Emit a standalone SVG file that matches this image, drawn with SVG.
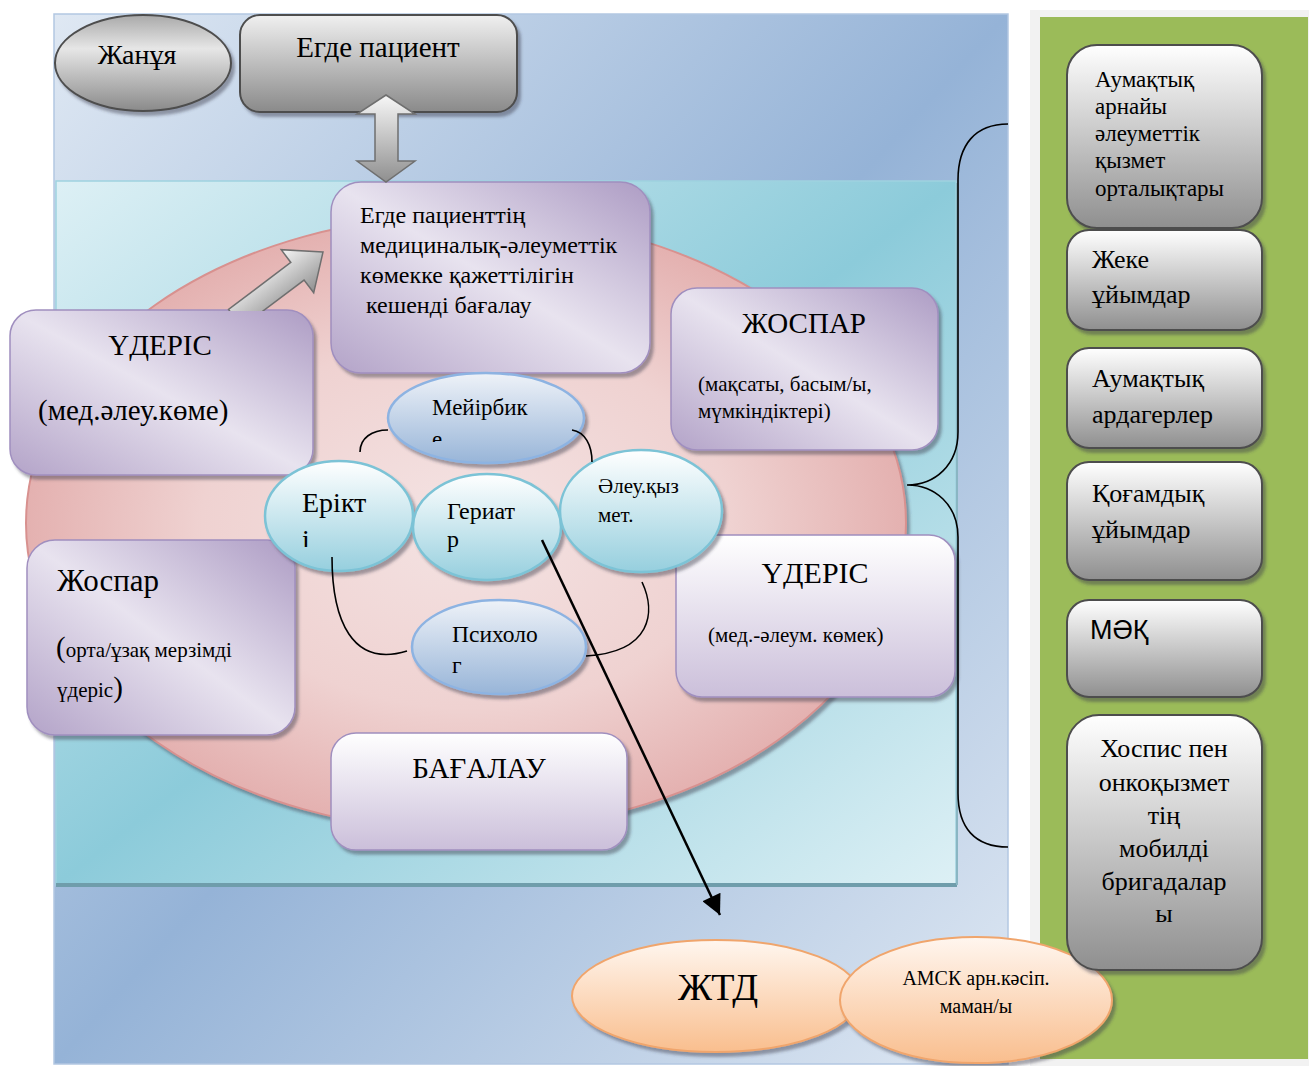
<svg xmlns="http://www.w3.org/2000/svg" width="1309" height="1066" viewBox="0 0 1309 1066">
<style>
.t{font-family:"Liberation Serif","Times New Roman",serif;fill:#000}
.s{font-family:"Liberation Sans",Arial,sans-serif;fill:#000}
.m{text-anchor:middle}
.pb{stroke:#a08fbf;stroke-width:1.5}
.gb{stroke:#4d4d4d;stroke-width:2}
.te{stroke:#7cc3d6;stroke-width:2.5}
.be{stroke:#8db3e2;stroke-width:2.5}
.oe{stroke:#f0a56c;stroke-width:2}
.cv{fill:none;stroke:#000;stroke-width:1.6}
</style>
<defs>
<linearGradient id="gOuter" x1="0" y1="0" x2="1" y2="1"><stop offset="0" stop-color="#dfe8f3"/><stop offset="0.5" stop-color="#95b3d7"/><stop offset="1" stop-color="#dfe8f3"/></linearGradient>
<linearGradient id="gInner" x1="0" y1="0" x2="1" y2="1"><stop offset="0" stop-color="#ddf0f5"/><stop offset="0.5" stop-color="#8ccbda"/><stop offset="1" stop-color="#ddf0f5"/></linearGradient>
<radialGradient id="gPink" cx="0.5" cy="0.5" r="0.5"><stop offset="0" stop-color="#f4e3e3"/><stop offset="0.6" stop-color="#efd2d1"/><stop offset="1" stop-color="#e4b1b0"/></radialGradient>
<linearGradient id="gPurple" x1="1" y1="0" x2="0" y2="1"><stop offset="0" stop-color="#ad9cc4"/><stop offset="0.5" stop-color="#e8e3ef"/><stop offset="1" stop-color="#b3a3c8"/></linearGradient>
<linearGradient id="gPurpleV" x1="0" y1="0" x2="0" y2="1"><stop offset="0" stop-color="#ffffff"/><stop offset="1" stop-color="#cbbfda"/></linearGradient>
<linearGradient id="gGrayV" x1="0" y1="0" x2="0" y2="1"><stop offset="0" stop-color="#ffffff"/><stop offset="1" stop-color="#8f8f8f"/></linearGradient>
<linearGradient id="gGrayBox" x1="0" y1="0" x2="0" y2="1"><stop offset="0" stop-color="#f0f0f0"/><stop offset="1" stop-color="#8a8a8a"/></linearGradient>
<linearGradient id="gGrayE" x1="0" y1="0" x2="0" y2="1"><stop offset="0" stop-color="#a9a9a9"/><stop offset="0.35" stop-color="#e6e6e6"/><stop offset="1" stop-color="#8a8a8a"/></linearGradient>
<linearGradient id="gArrow" x1="0" y1="0" x2="0" y2="1"><stop offset="0" stop-color="#f7f7f7"/><stop offset="1" stop-color="#8f8f8f"/></linearGradient>
<linearGradient id="gTeal" x1="0" y1="0" x2="0" y2="1"><stop offset="0" stop-color="#ffffff"/><stop offset="1" stop-color="#96cfde"/></linearGradient>
<linearGradient id="gBlue" x1="0" y1="0" x2="0" y2="1"><stop offset="0" stop-color="#eef2f8"/><stop offset="1" stop-color="#98b5d8"/></linearGradient>
<linearGradient id="gOrange" x1="0" y1="0" x2="0" y2="1"><stop offset="0" stop-color="#fff6ef"/><stop offset="1" stop-color="#f9be8e"/></linearGradient>
<filter id="sh" x="-10%" y="-10%" width="125%" height="130%"><feDropShadow dx="3" dy="4" stdDeviation="1.5" flood-color="#3a3a4a" flood-opacity="0.45"/></filter>
<clipPath id="cpDiag"><rect x="0" y="0" width="700" height="311"/></clipPath>
<clipPath id="cpE"><rect x="380" y="380" width="200" height="62"/></clipPath>
<clipPath id="cpI"><rect x="280" y="460" width="120" height="87"/></clipPath>
<marker id="ah" viewBox="0 0 10 10" refX="10" refY="5" markerWidth="24" markerHeight="20" markerUnits="userSpaceOnUse" orient="auto"><path d="M0,0 L10,5 L0,10 z" fill="#000"/></marker>
</defs>

<rect width="1309" height="1066" fill="#ffffff"/>
<g id="background">
<rect x="54" y="14" width="954" height="1050" fill="url(#gOuter)" stroke="#b3c7e2" stroke-width="1.5"/>
<rect x="56" y="181" width="900" height="704" fill="url(#gInner)" stroke="#9fd2df" stroke-width="1.5"/>
<line x1="56" y1="885" x2="957" y2="885" stroke="#6f9dab" stroke-width="4"/>
<line x1="957" y1="183" x2="957" y2="885" stroke="#8ab6c3" stroke-width="2"/>
<ellipse cx="466" cy="523" rx="440" ry="308" fill="url(#gPink)" stroke="#d8918f" stroke-width="2" filter="url(#sh)"/>
<rect x="1030" y="10" width="279" height="1056" fill="#f2f2f2"/>
<rect x="1040" y="17" width="268" height="1042" fill="#9bbb59"/>
</g>

<g id="node-zhanuya">
<ellipse cx="143" cy="63" rx="88" ry="48" fill="url(#gGrayE)" class="gb" filter="url(#sh)"/>
<text x="137" y="64" class="t m" font-size="28">Жанұя</text>
</g>
<g id="node-egde-pacient">
<rect x="240" y="15" width="277" height="97" rx="20" fill="url(#gGrayBox)" class="gb" filter="url(#sh)"/>
<text x="378" y="57" class="t m" font-size="29">Егде пациент</text>
</g>
<g id="node-assessment">
<rect x="331" y="182" width="319" height="191" rx="30" fill="url(#gPurple)" class="pb" filter="url(#sh)"/>
<text class="t" font-size="24"><tspan x="360" y="223">Егде пациенттің</tspan><tspan x="360" y="253">медициналық-әлеуметтік</tspan><tspan x="360" y="283">көмекке қажеттілігін</tspan><tspan x="366" y="313">кешенді бағалау</tspan></text>
</g>
<g id="node-uderis-left">
<rect x="10" y="310" width="303" height="165" rx="26" fill="url(#gPurple)" class="pb" filter="url(#sh)"/>
<text x="160" y="355" class="t m" font-size="29">ҮДЕРІС</text>
<text x="38" y="420" class="t" font-size="29">(мед.әлеу.көме)</text>
</g>
<g id="node-zhospar-upper">
<rect x="671" y="288" width="267" height="162" rx="26" fill="url(#gPurple)" class="pb" filter="url(#sh)"/>
<text x="804" y="333" class="t m" font-size="29">ЖОСПАР</text>
<text class="t" font-size="21"><tspan x="698" y="391">(мақсаты, басым/ы,</tspan><tspan x="698" y="418">мүмкіндіктері)</tspan></text>
</g>
<g id="node-uderis-right">
<rect x="676" y="535" width="279" height="162" rx="26" fill="url(#gPurpleV)" class="pb" filter="url(#sh)"/>
<text x="815" y="583" class="t m" font-size="30">ҮДЕРІС</text>
<text x="708" y="642" class="t" font-size="21">(мед.-әлеум. көмек)</text>
</g>
<g id="node-zhospar-lower">
<rect x="27" y="540" width="268" height="195" rx="28" fill="url(#gPurple)" class="pb" filter="url(#sh)"/>
<text x="57" y="591" class="t" font-size="31">Жоспар</text>
<text x="56" y="657" class="t" font-size="21"><tspan font-size="29">(</tspan>орта/ұзақ мерзімді</text>
<text x="57" y="697" class="t" font-size="21">үдеріс<tspan font-size="29">)</tspan></text>
</g>
<g id="node-bagalau">
<rect x="331" y="733" width="296" height="117" rx="25" fill="url(#gPurpleV)" class="pb" filter="url(#sh)"/>
<text x="479" y="778" class="t m" font-size="29">БАҒАЛАУ</text>
</g>

<g id="node-meyirbike">
<ellipse cx="486" cy="418" rx="98" ry="45" fill="url(#gBlue)" class="be" filter="url(#sh)"/>
<text x="432" y="415" class="t" font-size="23">Мейірбик</text>
<text x="432" y="447" class="t" font-size="23" clip-path="url(#cpE)">е</text>
</g>
<g id="node-erikti">
<ellipse cx="339" cy="516" rx="74" ry="55" fill="url(#gTeal)" class="te" filter="url(#sh)"/>
<text x="302" y="512" class="t" font-size="28">Ерікт</text>
<text x="302" y="549" class="t" font-size="28" clip-path="url(#cpI)">і</text>
</g>
<g id="node-geriatr">
<ellipse cx="487" cy="527" rx="74" ry="53" fill="url(#gTeal)" class="te" filter="url(#sh)"/>
<text x="447" y="519" class="t" font-size="24">Гериат</text>
<text x="447" y="547" class="t" font-size="24">р</text>
</g>
<g id="node-aleu">
<ellipse cx="641" cy="511" rx="81" ry="61" fill="url(#gTeal)" class="te" filter="url(#sh)"/>
<text class="t" font-size="21"><tspan x="598" y="493">Әлеу.қыз</tspan><tspan x="598" y="522">мет.</tspan></text>
</g>
<g id="node-psiholog">
<ellipse cx="499" cy="647" rx="87" ry="47" fill="url(#gBlue)" class="be" filter="url(#sh)"/>
<text x="452" y="642" class="t" font-size="23.5">Психоло</text>
<text x="452" y="673" class="t" font-size="23.5">г</text>
</g>

<g id="node-ztd">
<ellipse cx="716" cy="996" rx="144" ry="56" fill="url(#gOrange)" class="oe" filter="url(#sh)"/>
<text x="718" y="1000" class="t m" font-size="38">ЖТД</text>
</g>
<g id="node-amsk">
<ellipse cx="976" cy="1000" rx="136" ry="63" fill="url(#gOrange)" class="oe" filter="url(#sh)"/>
<text class="t m" font-size="20"><tspan x="976" y="985">АМСК арн.кәсіп.</tspan><tspan x="976" y="1013">маман/ы</tspan></text>
</g>

<g id="node-r1">
<rect x="1067" y="45" width="195" height="183" rx="30" fill="url(#gGrayV)" class="gb" filter="url(#sh)"/>
<text class="t" font-size="23"><tspan x="1095" y="87">Аумақтық</tspan><tspan x="1095" y="114">арнайы</tspan><tspan x="1095" y="141">әлеуметтік</tspan><tspan x="1095" y="168">қызмет</tspan><tspan x="1095" y="196">орталықтары</tspan></text>
</g>
<g id="node-r2">
<rect x="1067" y="230" width="195" height="100" rx="22" fill="url(#gGrayV)" class="gb" filter="url(#sh)"/>
<text class="t" font-size="26"><tspan x="1092" y="268">Жеке</tspan><tspan x="1092" y="303">ұйымдар</tspan></text>
</g>
<g id="node-r3">
<rect x="1067" y="348" width="195" height="100" rx="22" fill="url(#gGrayV)" class="gb" filter="url(#sh)"/>
<text class="t" font-size="26"><tspan x="1092" y="387">Аумақтық</tspan><tspan x="1092" y="423">ардагерлер</tspan></text>
</g>
<g id="node-r4">
<rect x="1067" y="462" width="195" height="118" rx="22" fill="url(#gGrayV)" class="gb" filter="url(#sh)"/>
<text class="t" font-size="26"><tspan x="1092" y="502">Қоғамдық</tspan><tspan x="1092" y="538">ұйымдар</tspan></text>
</g>
<g id="node-r5">
<rect x="1067" y="600" width="195" height="97" rx="22" fill="url(#gGrayV)" class="gb" filter="url(#sh)"/>
<text x="1090" y="639" class="s" font-size="27">МӘҚ</text>
</g>
<g id="node-r6">
<rect x="1067" y="715" width="195" height="255" rx="32" fill="url(#gGrayV)" class="gb" filter="url(#sh)"/>
<text class="t m" font-size="26"><tspan x="1164" y="757">Хоспис пен</tspan><tspan x="1164" y="791">онкоқызмет</tspan><tspan x="1164" y="824">тің</tspan><tspan x="1164" y="857">мобилді</tspan><tspan x="1164" y="890">бригадалар</tspan><tspan x="1164" y="922">ы</tspan></text>
</g>

<g id="connectors">
<polygon points="386,95 415,114 398,114 398,161 415,161 386,182 357,161 375,161 375,114 357,114" fill="url(#gArrow)" stroke="#6f6f6f" stroke-width="1.5"/>
<g clip-path="url(#cpDiag)"><polygon transform="translate(323,252) rotate(-37)" points="0,0 -32,-27 -32,-11 -110,-11 -110,11 -32,11 -32,27" fill="url(#gArrow)" stroke="#6f6f6f" stroke-width="1.5"/></g>
<path class="cv" d="M360,452 C360,438 372,430 388,430"/>
<path class="cv" d="M572,430 C585,432 592,445 592,462"/>
<path class="cv" d="M332,557 C332,620 352,668 407,651"/>
<path class="cv" d="M642,582 C656,612 652,652 586,656"/>
<line x1="542" y1="540" x2="720" y2="915" stroke="#000" stroke-width="2.5" marker-end="url(#ah)"/>
<path class="cv" stroke-width="1.8" d="M1008,124 C975,124 958,145 958,180 L958,432 C958,465 935,485 907,485 C935,485 958,505 958,537 L958,793 C958,828 975,847 1008,847"/>
</g>
</svg>
